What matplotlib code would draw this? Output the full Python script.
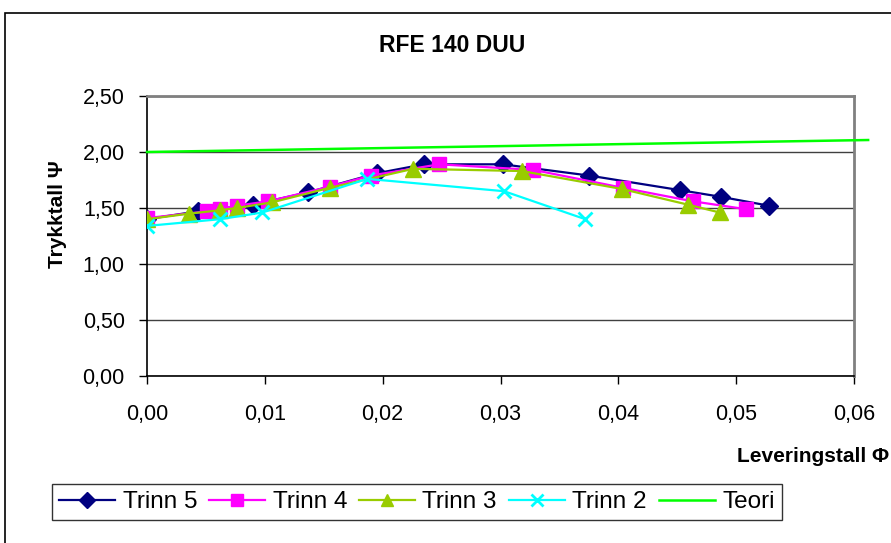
import matplotlib
matplotlib.use('Agg')
import matplotlib.pyplot as plt
from matplotlib.ticker import FuncFormatter, MultipleLocator
from matplotlib.patches import Rectangle

plt.rcParams['font.family'] = ['Liberation Sans', 'DejaVu Sans']

# data
x5 = [0.000, 0.0043, 0.0090, 0.0137, 0.0195, 0.0235, 0.0302, 0.0375, 0.0452, 0.0487, 0.0528]
y5 = [1.40, 1.47, 1.53, 1.64, 1.81, 1.89, 1.89, 1.79, 1.66, 1.60, 1.52]

x4 = [0.000, 0.0051, 0.0062, 0.0076, 0.0103, 0.0155, 0.0190, 0.0248, 0.0328, 0.0404, 0.0463, 0.0508]
y4 = [1.41, 1.47, 1.49, 1.52, 1.56, 1.69, 1.79, 1.89, 1.84, 1.68, 1.56, 1.49]

x3 = [0.000, 0.0036, 0.0062, 0.0076, 0.0106, 0.0155, 0.0226, 0.0318, 0.0403, 0.0459, 0.0486]
y3 = [1.40, 1.45, 1.48, 1.50, 1.55, 1.68, 1.85, 1.83, 1.67, 1.53, 1.46]

x2 = [0.000, 0.0062, 0.0098, 0.0187, 0.0303, 0.0372]
y2 = [1.34, 1.40, 1.46, 1.76, 1.65, 1.40]

xt = [0.000, 0.020, 0.040, 0.0612]
yt = [2.000, 2.035, 2.070, 2.107]

fig = plt.figure(figsize=(8.91, 5.43), dpi=100)
ax = fig.add_axes([147/891, 1-376/543, (854-147)/891, (376-96)/543])

# outer chart frame (cut off at right/bottom like the original)
fig.patches.append(Rectangle((5/891, -0.1), 1.2, 1-13/543+0.1, transform=fig.transFigure,
                             fill=False, edgecolor='black', linewidth=1.2))

ax.plot(x5, y5, color='#000080', marker='D', markersize=9, linewidth=1.6, label='Trinn 5', zorder=3)
ax.plot(x4, y4, color='#FF00FF', marker='s', markersize=10, linewidth=1.6, label='Trinn 4', zorder=4)
ax.plot(x3, y3, color='#99CC00', marker='^', markersize=11, linewidth=1.6, label='Trinn 3', zorder=5)
ax.plot(x2, y2, color='#00FFFF', marker='x', markersize=10, markeredgewidth=2, linewidth=1.6, label='Trinn 2', zorder=6)
ax.plot(xt, yt, color='#00FF00', linewidth=1.8, label='Teori', zorder=7, clip_on=False)

ax.set_xlim(0, 0.06)
ax.set_ylim(0, 2.5)
ax.xaxis.set_major_locator(MultipleLocator(0.01))
ax.yaxis.set_major_locator(MultipleLocator(0.5))
comma = lambda fmt: FuncFormatter(lambda v, p: (fmt % v).replace('.', ','))
ax.xaxis.set_major_formatter(comma('%.2f'))
ax.yaxis.set_major_formatter(comma('%.2f'))
ax.tick_params(labelsize=15.5, length=6, width=1, colors='black', direction='out')
ax.tick_params(axis='y', pad=10)
ax.tick_params(axis='x', pad=14)

ax.grid(axis='y', color='#404040', linewidth=1)
ax.set_axisbelow(True)
for s in ['top', 'right']:
    ax.spines[s].set_color('#808080')
    ax.spines[s].set_linewidth(2)
for s in ['left', 'bottom']:
    ax.spines[s].set_color('black')
    ax.spines[s].set_linewidth(1.2)

fig.text(452/891, 1-46/543, 'RFE 140 DUU', ha='center', va='center', fontsize=16.5, fontweight='bold')
fig.text(58/891, 1-214/543, 'Trykktall Ψ', ha='center', va='center', rotation=90, fontsize=15, fontweight='bold')
fig.text(889/891, 1-456/543, 'Leveringstall Φ', ha='right', va='center', fontsize=15, fontweight='bold')

leg = fig.legend(loc='center', bbox_to_anchor=(417/891, 1-502/543), ncol=5, fontsize=17.5,
                 frameon=True, fancybox=False, edgecolor='black', handlelength=2.3,
                 handletextpad=0.3, columnspacing=0.5, borderpad=0.3, borderaxespad=0,
                 markerscale=0.85)
leg.get_frame().set_linewidth(1)

fig.savefig('out.png', dpi=100)
